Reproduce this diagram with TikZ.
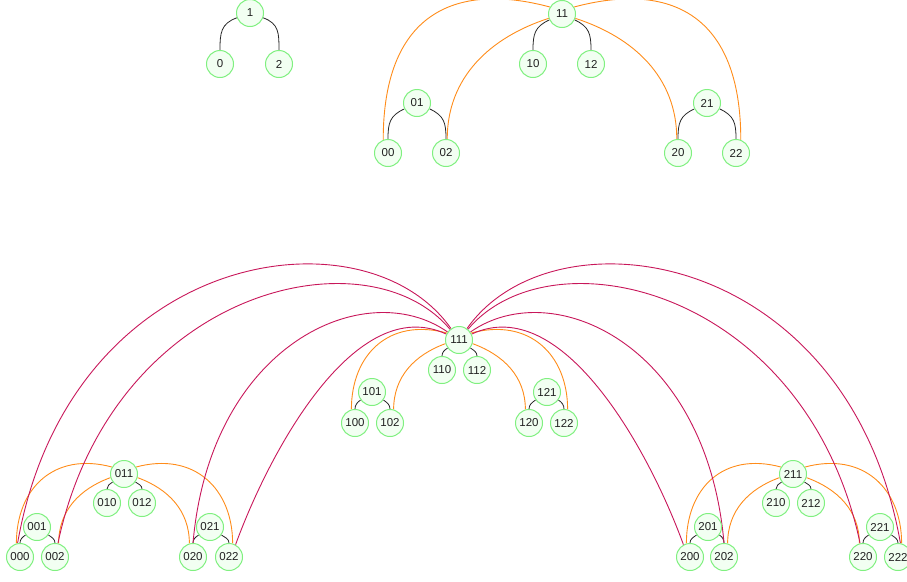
\documentclass[tikz,border=0pt]{standalone}
\usepackage{fontspec}
\setmainfont{Liberation Sans}
\usetikzlibrary{backgrounds}
\definecolor{nodeg}{HTML}{80F080}
\definecolor{nodef}{HTML}{F2FFF2}
\definecolor{orng}{HTML}{FF8C1A}
\definecolor{crim}{HTML}{C8175A}
\definecolor{txt}{HTML}{222222}
\tikzset{
  tn/.style={circle, draw=nodeg, fill=nodef, line width=1pt, minimum size=27pt, inner sep=0pt, text=txt, font=\fontsize{11.5}{13}\selectfont},
  tree/.style={draw=black!85, line width=0.8pt},
  og/.style={draw=orng, line width=0.9pt},
  cr/.style={draw=crim, line width=0.9pt}
}
\begin{document}
\begin{tikzpicture}[x=1pt,y=1pt]
\useasboundingbox (0,0) rectangle (907,-581);
% top-left tree
\node[tn] (n1) at (250,-13) {1};
\node[tn] (n0) at (220,-64) {0};
\node[tn] (n2) at (279,-64) {2};
% top-right
\node[tn] (n11) at (562,-14) {11};
\node[tn] (n10) at (533,-64) {10};
\node[tn] (n12) at (591,-64) {12};
\node[tn] (n01) at (417,-103) {01};
\node[tn] (n00) at (388,-153) {00};
\node[tn] (n02) at (446,-153) {02};
\node[tn] (n21) at (707,-103) {21};
\node[tn] (n20) at (678,-153) {20};
\node[tn] (n22) at (736,-153) {22};
% bottom middle
\node[tn] (n111) at (459,-340) {111};
\node[tn] (n110) at (442,-370) {110};
\node[tn] (n112) at (477,-370) {112};
\node[tn] (n101) at (372,-392) {101};
\node[tn] (n100) at (355,-423) {100};
\node[tn] (n102) at (390,-423) {102};
\node[tn] (n121) at (547,-392) {121};
\node[tn] (n120) at (529,-423) {120};
\node[tn] (n122) at (564,-423) {122};
% bottom left
\node[tn] (n011) at (124,-474) {011};
\node[tn] (n010) at (107,-503) {010};
\node[tn] (n012) at (142,-503) {012};
\node[tn] (n001) at (37,-527) {001};
\node[tn] (n000) at (20,-557) {000};
\node[tn] (n002) at (55,-557) {002};
\node[tn] (n021) at (210,-527) {021};
\node[tn] (n020) at (193,-557) {020};
\node[tn] (n022) at (229,-557) {022};
% bottom right
\node[tn] (n211) at (793,-474) {211};
\node[tn] (n210) at (776,-503) {210};
\node[tn] (n212) at (811,-503) {212};
\node[tn] (n201) at (708,-527) {201};
\node[tn] (n200) at (690,-557) {200};
\node[tn] (n202) at (724,-557) {202};
\node[tn] (n221) at (880,-527) {221};
\node[tn] (n220) at (863,-557) {220};
\node[tn] (n222) at (898,-557) {222};
\begin{pgfonlayer}{background}
% black tree edges (top)
\draw[tree] (n1) to[out=200,in=90,looseness=1.2] (n0);
\draw[tree] (n1) to[out=-20,in=90,looseness=1.2] (n2);
\draw[tree] (n11) to[out=205,in=90,looseness=1.2] (n10);
\draw[tree] (n11) to[out=-25,in=90,looseness=1.2] (n12);
\draw[tree] (n01) to[out=205,in=90,looseness=1.2] (n00);
\draw[tree] (n01) to[out=-25,in=90,looseness=1.2] (n02);
\draw[tree] (n21) to[out=205,in=90,looseness=1.2] (n20);
\draw[tree] (n21) to[out=-25,in=90,looseness=1.2] (n22);
% black tree edges (bottom)
\foreach \p/\a/\b in {n111/n110/n112, n101/n100/n102, n121/n120/n122,
                      n011/n010/n012, n001/n000/n002, n021/n020/n022,
                      n211/n210/n212, n201/n200/n202, n221/n220/n222}{
  \draw[tree] (\p) to[out=215,in=90] (\a);
  \draw[tree] (\p) to[out=-35,in=90] (\b);
}
% orange top
\draw[og] (n11.150) to[out=165,in=90,out distance=100pt,in distance=125pt] (n00.110);
\draw[og] (n11.198) to[out=198,in=90] (n02.85);
\draw[og] (n11.-18) to[out=-18,in=90] (n20.95);
\draw[og] (n11.30) to[out=15,in=90,out distance=100pt,in distance=125pt] (n22.70);
% orange bottom
\foreach \p/\a/\b/\c/\d in {n111/n100/n102/n120/n122, n011/n000/n002/n020/n022, n211/n200/n202/n220/n222}{
  \draw[og] (\p.150) to[out=165,in=90,out distance=60pt,in distance=55pt] (\a.105);
  \draw[og] (\p.195) to[out=200,in=90] (\b.75);
  \draw[og] (\p.-15) to[out=-20,in=90] (\c.105);
  \draw[og] (\p.30) to[out=15,in=90,out distance=60pt,in distance=55pt] (\d.75);
}
% crimson
\draw[cr] (n111) to[out=125,in=80,out distance=150pt,in distance=300pt] (n000.100);
\draw[cr] (n111) to[out=130,in=78,out distance=130pt,in distance=260pt] (n002.78);
\draw[cr] (n111) to[out=145,in=85,out distance=100pt,in distance=200pt] (n020.90);
\draw[cr] (n111) to[out=155,in=70,out distance=100pt,in distance=100pt] (n022.62);
\draw[cr] (n111) to[out=55,in=100,out distance=150pt,in distance=300pt] (n222.80);
\draw[cr] (n111) to[out=50,in=102,out distance=130pt,in distance=260pt] (n220.102);
\draw[cr] (n111) to[out=35,in=95,out distance=100pt,in distance=200pt] (n202.90);
\draw[cr] (n111) to[out=25,in=110,out distance=100pt,in distance=100pt] (n200.118);
\end{pgfonlayer}
\end{tikzpicture}
\end{document}
